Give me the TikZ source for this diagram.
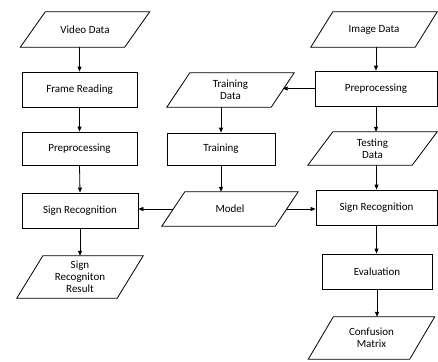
\documentclass[tikz,border=0pt]{standalone}
\usepackage{fontspec}
\setmainfont{Carlito}
\usetikzlibrary{arrows.meta,calc}
\tikzset{
  box/.style={draw, line width=0.8pt, minimum height=35pt, inner sep=0pt, align=center, font=\fontsize{11}{12}\selectfont},
  pbox/.style={draw=none, minimum height=35pt, inner sep=0pt, align=center, font=\fontsize{11}{12}\selectfont},
  arr/.style={line width=0.8pt, -{Triangle[length=5pt,width=4pt]}},
  outl/.style={line width=0.8pt}
}
\newcommand\paraout[2]{\draw[outl] ($(#1.north west)+(#2/2,0)$) -- ($(#1.north east)+(#2/2,0)$) -- ($(#1.south east)-(#2/2,0)$) -- ($(#1.south west)-(#2/2,0)$) -- cycle;}
\begin{document}
\begin{tikzpicture}[x=1pt,y=-1pt]
\useasboundingbox (0,0) rectangle (438,361);
% left column
\node[pbox, minimum width=104pt] (vd) at (85,29.5) {Video Data};
\paraout{vd}{25pt}
\node[box, minimum width=115pt] (fr) at (79.5,89.5) {Frame Reading};
\node[box, minimum width=115pt, minimum height=33pt] (ppl) at (79.5,148.5) {Preprocessing};
\node[box, minimum width=116pt] (srl) at (80,210.5) {Sign Recognition};
\node[pbox, minimum width=100pt, minimum height=42pt] (res) at (80,277) {Sign\\Recogniton\\Result};
\paraout{res}{26pt}
% middle column
\node[pbox, minimum width=104pt, minimum height=34pt] (trd) at (230.5,90) {Training\\Data};
\paraout{trd}{23pt}
\node[box, minimum width=108pt, minimum height=32pt] (tr) at (221,149) {Training};
\node[pbox, minimum width=113pt, minimum height=34pt] (mod) at (230,209) {Model};
\paraout{mod}{23pt}
% right column
\node[pbox, minimum width=104pt] (id) at (374,29.5) {Image Data};
\paraout{id}{22pt}
\node[box, minimum width=122pt] (ppr) at (376,88.5) {Preprocessing};
\node[pbox, minimum width=104pt, minimum height=33pt] (ted) at (372.5,148.5) {Testing\\Data};
\paraout{ted}{25pt}
\node[box, minimum width=121pt] (srr) at (376.5,207.5) {Sign Recognition};
\node[box, minimum width=110pt] (ev) at (377,271.5) {Evaluation};
\node[pbox, minimum width=101pt, minimum height=42pt] (cm) at (371.5,338) {Confusion\\Matrix};
\paraout{cm}{25pt}
% connectors
\draw[arr] (vd.south -| fr) -- (fr.north);
\draw[arr] (fr.south) -- (ppl.north);
\draw[arr] (ppl.south) -- (srl.north);
\draw[arr] (srl.south) -- (res.north -| srl);
\draw[arr] (mod.west) -- (mod.west -| srl.east);
\draw[arr] (trd.south -| tr) -- (tr.north);
\draw[arr] (tr.south) -- (mod.north -| tr);
\draw[arr] (ppr.west) -- (ppr.west -| trd.east);
\draw[arr] (mod.east) -- (mod.east -| srr.west);
\draw[arr] (id.south -| ppr) -- (ppr.north);
\draw[arr] (ppr.south) -- (ted.north -| ppr);
\draw[arr] (ted.south -| srr) -- (srr.north);
\draw[arr] (srr.south) -- (ev.north -| srr);
\draw[arr] (ev.south) -- (cm.north -| ev);
\end{tikzpicture}
\end{document}
